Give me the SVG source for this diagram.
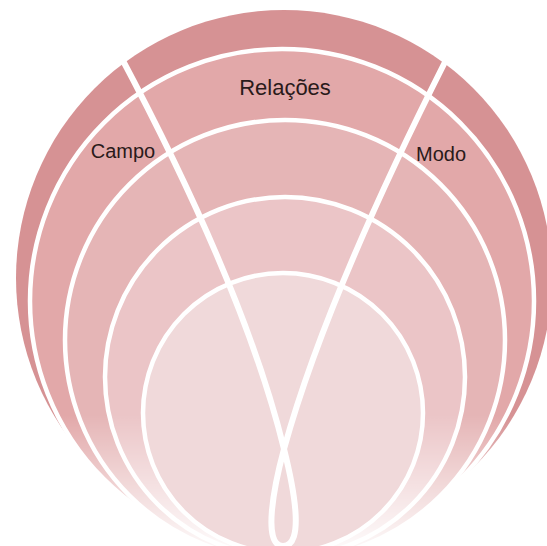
<svg xmlns="http://www.w3.org/2000/svg" width="547" height="546" viewBox="0 0 547 546">
<defs>
  <linearGradient id="fade" gradientUnits="userSpaceOnUse" x1="0" y1="0" x2="0" y2="546">
    <stop offset="0.76" stop-color="#fff" stop-opacity="1"/>
    <stop offset="1" stop-color="#fff" stop-opacity="0.1"/>
  </linearGradient>
  <mask id="m" maskUnits="userSpaceOnUse" x="0" y="0" width="547" height="546">
    <rect x="0" y="0" width="547" height="546" fill="url(#fade)"/>
  </mask>
</defs>
<style>
  .ring { stroke: #ffffff; stroke-width: 4.5; }
  .lbl { font-family: "Liberation Sans", Arial, sans-serif; font-size: 20px; fill: #2a1a1a; text-anchor: middle; }
  .big { font-size: 22px; }
  .cross { fill: none; stroke: #ffffff; stroke-width: 6; stroke-linecap: round; stroke-linejoin: round; }
</style>
<rect width="547" height="546" fill="#ffffff"/>
<g mask="url(#m)">
  <g id="ring-outer"><circle cx="284" cy="278" r="268" fill="#d69294"/></g>
  <g id="ring-2"><circle class="ring" cx="282" cy="301" r="252" fill="#e2a8a9"/></g>
  <g id="ring-3"><circle class="ring" cx="285" cy="340" r="220" fill="#e5b5b6"/></g>
  <g id="ring-4"><circle class="ring" cx="285" cy="377" r="180" fill="#ebc5c7"/></g>
</g>
<g id="ring-inner"><circle class="ring" cx="283" cy="413" r="140" fill="#f0d9da"/></g>
<g id="connectors">
  <path class="cross" d="M 114 44 L 120 55 Q 245 290 284 449 C 294 489 305 546 283 546 C 262 546 274 486 284 449 Q 325 300 445 62 L 450 52"/>
</g>
<g id="label-relacoes"><text class="lbl big" x="285" y="95">Relações</text></g>
<g id="label-campo"><text class="lbl" x="123" y="158">Campo</text></g>
<g id="label-modo"><text class="lbl" x="441" y="161">Modo</text></g>
</svg>
